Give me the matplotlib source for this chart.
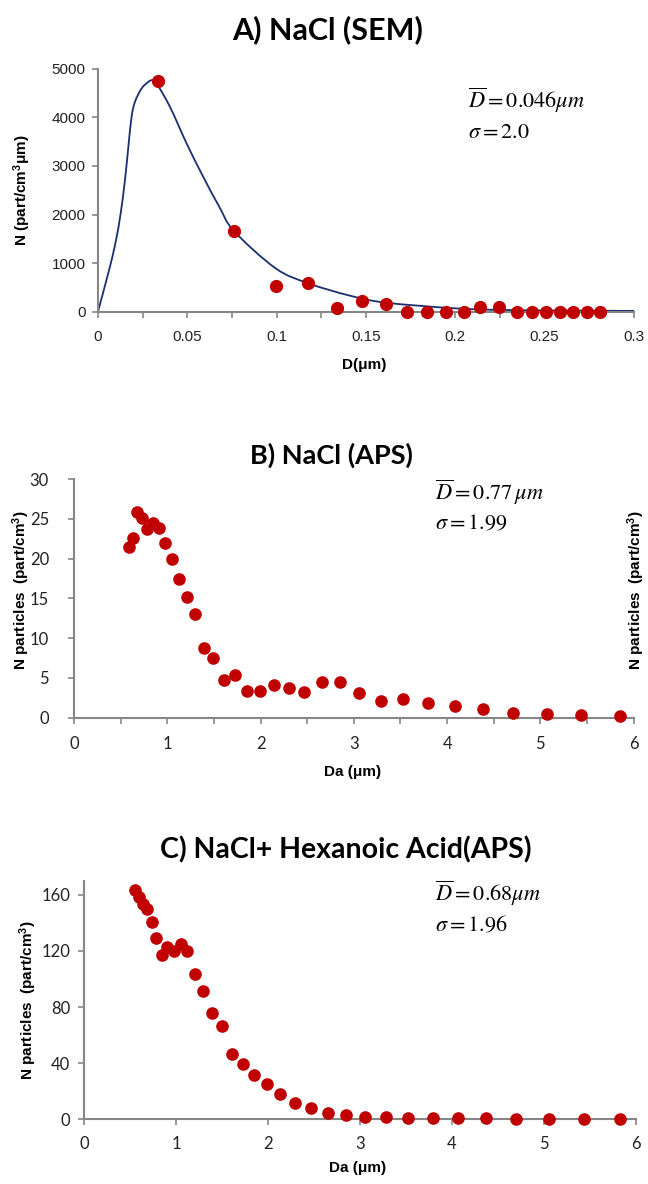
import matplotlib
matplotlib.use("Agg")
import matplotlib.pyplot as plt
from matplotlib.path import Path
from matplotlib.patches import PathPatch

plt.rcParams['mathtext.fontset'] = 'stix'

# Panel A: NaCl (SEM)
sem_d = [0.0336, 0.0761, 0.0994, 0.1177, 0.1336, 0.148, 0.161, 0.1727, 0.184,
         0.1945, 0.2046, 0.214, 0.2244, 0.2345, 0.2427, 0.2507, 0.2585, 0.266,
         0.2735, 0.281]
sem_n = [4747, 1660, 535, 584, 70, 226, 158, 0, 0, 0, 0, 103, 90, 0, 0, 0, 0,
         0, 0, 0]
# fitted curve
fit_d = [0.0, 0.0067, 0.0101, 0.0127, 0.0151, 0.0170, 0.0188, 0.0207, 0.0244,
         0.0282, 0.0304, 0.0328, 0.0403, 0.0496, 0.0589, 0.0679, 0.0761,
         0.0994, 0.1177, 0.141, 0.161, 0.1987, 0.225, 0.26, 0.3]
fit_n = [0, 926, 1475, 2025, 2710, 3395, 4012, 4321, 4597, 4733, 4767, 4700,
         4218, 3465, 2778, 2160, 1660, 893, 584, 329, 185, 70, 35, 22, 15]

# Panel B: NaCl (APS)
aps_da = [0.590, 0.637, 0.68, 0.733, 0.787, 0.848, 0.909, 0.976, 1.05, 1.123,
          1.21, 1.298, 1.39, 1.495, 1.606, 1.724, 1.856, 1.992, 2.142, 2.30,
          2.47, 2.657, 2.85, 3.058, 3.29, 3.53, 3.80, 4.085, 4.385, 4.71,
          5.07, 5.44, 5.85]
aps_n = [21.4, 22.6, 25.9, 25.1, 23.7, 24.5, 23.9, 22.0, 19.9, 17.5, 15.2,
         13.1, 8.8, 7.5, 4.8, 5.4, 3.3, 3.4, 4.1, 3.8, 3.2, 4.5, 4.5, 3.1,
         2.1, 2.4, 1.9, 1.5, 1.1, 0.6, 0.5, 0.4, 0.25]

# Panel C: NaCl + Hexanoic Acid (APS)
hex_da = [0.554, 0.594, 0.638, 0.688, 0.736, 0.786, 0.844, 0.902, 0.978,
          1.051, 1.123, 1.207, 1.297, 1.391, 1.497, 1.605, 1.725, 1.848,
          1.989, 2.134, 2.297, 2.464, 2.649, 2.845, 3.054, 3.28, 3.525, 3.79,
          4.07, 4.37, 4.70, 5.05, 5.43, 5.83]
hex_n = [163.4, 158.6, 153.4, 149.6, 140.6, 129.3, 116.9, 122.6, 120.2, 125.2,
         119.7, 103.7, 91.8, 75.7, 66.3, 46.6, 39.1, 31.5, 24.9, 18.0, 11.4,
         8.3, 4.7, 2.8, 1.6, 1.4, 1.2, 1.1, 0.7, 0.7, 0.5, 0.4, 0.3, 0.3]

RED = '#c00000'
NAVY = '#1a2f6e'
GRAY = '#868686'
TICK_FONT = 'Lato'
BOLD_FONT = 'Liberation Sans'


def smooth_line(ax, xs, ys, **kw):
    """Excel-like smoothed line: Bezier segments through the points,
    built in display space so the curve does not depend on axis scales."""
    pts = ax.transData.transform(list(zip(xs, ys)))
    verts = [tuple(pts[0])]
    codes = [Path.MOVETO]
    n = len(pts)
    for i in range(n - 1):
        p0 = pts[max(i - 1, 0)]
        p1 = pts[i]
        p2 = pts[i + 1]
        p3 = pts[min(i + 2, n - 1)]
        c1 = p1 + (p2 - p0) / 6.0
        c2 = p2 - (p3 - p1) / 6.0
        verts += [tuple(c1), tuple(c2), tuple(p2)]
        codes += [Path.CURVE4] * 3
    patch = PathPatch(Path(verts, codes), transform=None, fill=False, **kw)
    ax.add_artist(patch)


def style_axes(ax, tick_family, size, xpad, ypad):
    for side in ('top', 'right'):
        ax.spines[side].set_visible(False)
    for side in ('left', 'bottom'):
        ax.spines[side].set_color(GRAY)
        ax.spines[side].set_linewidth(1.5)
    ax.tick_params(which='both', direction='out', color=GRAY, width=1.2,
                   length=4, labelsize=size, labelcolor='#222222')
    ax.tick_params(axis='x', pad=xpad)
    ax.tick_params(axis='y', pad=ypad)
    for lab in ax.get_xticklabels() + ax.get_yticklabels():
        lab.set_family(tick_family)


fig = plt.figure(figsize=(6.48, 11.84), dpi=100)

# ---- A ----
ax1 = fig.add_axes([0.1512, 0.7368, 0.8272, 0.205])
ax1.set_xlim(0, 0.3)
ax1.set_ylim(0, 5000)
ax1.scatter(sem_d, sem_n, s=72, color=RED, zorder=3, clip_on=False)
ax1.set_xticks([0, 0.05, 0.1, 0.15, 0.2, 0.25, 0.3])
ax1.set_xticklabels(['0', '0.05', '0.1', '0.15', '0.2', '0.25', '0.3'])
ax1.set_xticks([0.025, 0.075, 0.125, 0.175, 0.225, 0.275], minor=True)
ax1.set_yticks([0, 1000, 2000, 3000, 4000, 5000])
style_axes(ax1, 'Liberation Sans', 11, 9, 5)
ax1.set_xlabel('D(μm)', fontsize=11, fontweight='bold', family=BOLD_FONT)
ax1.set_ylabel('N (part/cm$^\\mathregular{3}$μm)', fontsize=11,
               fontweight='bold', family=BOLD_FONT)
ax1.xaxis.set_label_coords(0.496, -0.19)
ax1.yaxis.set_label_coords(-0.121, 0.5)
ax1.text(0.69, 0.872, r'$\overline{D} = 0.046\mu m$', transform=ax1.transAxes,
         fontsize=16, va='center')
ax1.text(0.69, 0.74, r'$\sigma = 2.0$', transform=ax1.transAxes,
         fontsize=16, va='center')

# ---- B ----
ax2 = fig.add_axes([0.1142, 0.3938, 0.8637, 0.2016])
ax2.scatter(aps_da, aps_n, s=65, color=RED, zorder=3, clip_on=False)
ax2.set_xlim(0, 6)
ax2.set_ylim(0, 30)
ax2.set_xticks(range(0, 7))
ax2.set_xticks([0.5, 1.5, 2.5, 3.5, 4.5, 5.5], minor=True)
ax2.set_yticks(range(0, 31, 5))
style_axes(ax2, TICK_FONT, 12, 9, 14)
ax2.set_xlabel('Da (μm)', fontsize=11, fontweight='bold', family=BOLD_FONT)
ax2.set_ylabel('N particles  (part/cm$^\\mathregular{3}$)', fontsize=11,
               fontweight='bold', family=BOLD_FONT)
ax2.xaxis.set_label_coords(0.497, -0.198)
ax2.yaxis.set_label_coords(-0.075, 0.535)
ax2.text(0.645, 0.945, r'$\overline{D} = 0.77\,\mu m$', transform=ax2.transAxes,
         fontsize=16, va='center')
ax2.text(0.645, 0.816, r'$\sigma = 1.99$', transform=ax2.transAxes,
         fontsize=16, va='center')
fig.text(636 / 648, 1 - 590 / 1184, 'N particles  (part/cm$^\\mathregular{3}$)',
         rotation=90, fontsize=11, fontweight='bold', family=BOLD_FONT,
         ha='center', va='center')

# ---- C ----
ax3 = fig.add_axes([0.1296, 0.0546, 0.8519, 0.2015])
ax3.scatter(hex_da, hex_n, s=65, color=RED, zorder=3, clip_on=False)
ax3.set_xlim(0, 6)
ax3.set_ylim(0, 170)
ax3.set_xticks(range(0, 7))
ax3.set_yticks([0, 40, 80, 120, 160])
style_axes(ax3, TICK_FONT, 12, 8, 6)
ax3.set_xlabel('Da (μm)', fontsize=11, fontweight='bold', family=BOLD_FONT)
ax3.set_ylabel('N particles  (part/cm$^\\mathregular{3}$)', fontsize=11,
               fontweight='bold', family=BOLD_FONT)
ax3.xaxis.set_label_coords(0.496, -0.175)
ax3.yaxis.set_label_coords(-0.082, 0.5)
ax3.text(0.636, 0.948, r'$\overline{D} = 0.68\mu m$', transform=ax3.transAxes,
         fontsize=16, va='center')
ax3.text(0.636, 0.814, r'$\sigma = 1.96$', transform=ax3.transAxes,
         fontsize=16, va='center')

# titles
fig.text(328 / 648, 1 - 30 / 1184, 'A) NaCl (SEM)', fontsize=22,
         fontweight='bold', family='Lato', ha='center', va='center')
fig.text(331 / 648, 1 - 455 / 1184, 'B) NaCl (APS)', fontsize=19.5,
         fontweight='bold', family='Lato', ha='center', va='center')
fig.text(346 / 648, 1 - 850 / 1184, 'C) NaCl+ Hexanoic Acid(APS)',
         fontsize=20.5, fontweight='bold', family='Lato', ha='center',
         va='center')

# curve last, once the layout is fixed
smooth_line(ax1, fit_d, fit_n, color=NAVY, lw=1.3, zorder=2)

fig.savefig('out.png', dpi=100)
